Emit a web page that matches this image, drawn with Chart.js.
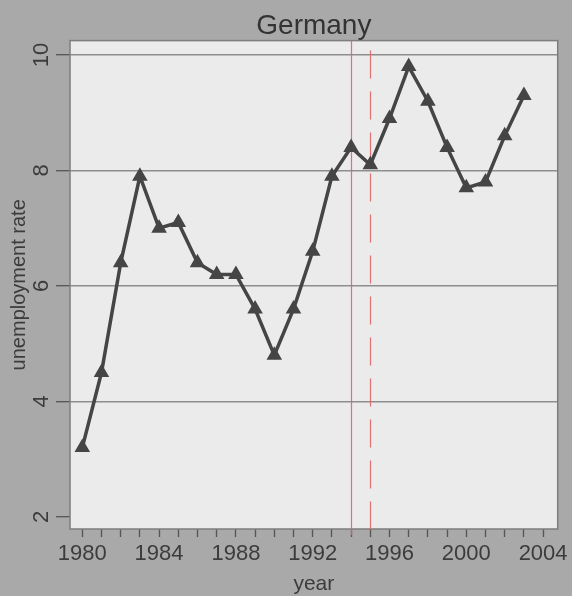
<!DOCTYPE html>
<html>
<head>
<meta charset="utf-8">
<script src="https://cdn.jsdelivr.net/npm/chart.js@4/dist/chart.umd.min.js"></script>
<style>
  html, body { margin: 0; padding: 0; background: #a9a9a9; }
  canvas { display: block; }
</style>
</head>
<body>
<canvas id="myChart" width="572" height="596"></canvas>
<script>
// ---- data ----
let years = [1980, 1981, 1982, 1983, 1984, 1985, 1986, 1987, 1988, 1989, 1990, 1991,
             1992, 1993, 1994, 1995, 1996, 1997, 1998, 1999, 2000, 2001, 2002, 2003];
let rates = [3.2, 4.5, 6.4, 7.9, 7.0, 7.1, 6.4, 6.2, 6.2, 5.6, 4.8, 5.6,
             6.6, 7.9, 8.4, 8.1, 8.9, 9.8, 9.2, 8.4, 7.7, 7.8, 8.6, 9.3];

let yTicks = [2, 4, 6, 8, 10];
let xTickLabels = [1980, 1984, 1988, 1992, 1996, 2000, 2004];
let eventYears = [1994, 1995];   // solid, dashed red marks

let fontFam = "'Liberation Sans', Arial, sans-serif";

// ---------------------------------

let points = years.map((yr, i) => ({ x: yr, y: rates[i] }));

let backPlugin = {
  id: "back",
  beforeDraw(chart) {
    let ctx = chart.ctx;
    let a = chart.chartArea;
    ctx.save();
    ctx.fillStyle = "#a9a9a9";
    ctx.fillRect(0, 0, chart.width, chart.height);
    ctx.fillStyle = "#ebebeb";
    ctx.fillRect(a.left, a.top, a.right - a.left, a.bottom - a.top);
    ctx.restore();
  },
  beforeDatasetsDraw(chart) {
    let ctx = chart.ctx;
    let a = chart.chartArea;
    let xs = chart.scales.x;
    ctx.save();
    // plot frame
    ctx.strokeStyle = "#7d7d7d";
    ctx.lineWidth = 1.5;
    ctx.strokeRect(a.left, a.top, a.right - a.left, a.bottom - a.top);
    // red year markers
    ctx.strokeStyle = "rgba(222,100,100,0.9)";
    ctx.lineWidth = 1.2;
    eventYears.forEach((yr, i) => {
      let px = Math.round(xs.getPixelForValue(yr)) + 0.5;
      ctx.setLineDash(i == 0 ? [] : [28, 13]);
      ctx.beginPath();
      ctx.moveTo(px, i == 0 ? a.top : a.top + 10);
      ctx.lineTo(px, a.bottom + 6);
      ctx.stroke();
    });
    ctx.restore();
  },
  afterDraw(chart) {
    // rotated y tick labels, like base R
    let ctx = chart.ctx;
    let ys = chart.scales.y;
    ctx.save();
    ctx.fillStyle = "#3c3c3c";
    ctx.font = "22px " + fontFam;
    ctx.textAlign = "center";
    ctx.textBaseline = "middle";
    ys.ticks.forEach((t) => {
      let py = ys.getPixelForValue(t.value);
      ctx.save();
      ctx.translate(42, py);
      ctx.rotate(-Math.PI / 2);
      ctx.fillText(String(t.value), 0, 0);
      ctx.restore();
    });
    ctx.restore();
  }
};

new Chart("myChart", {
  type: "line",
  data: {
    datasets: [
      {
        data: points,
        borderColor: "#454545",
        backgroundColor: "#454545",
        borderWidth: 3.5,
        pointStyle: "triangle",
        pointRadius: 5.5,
        pointHoverRadius: 5.5,
        tension: 0,
      },
    ],
  },
  options: {
    responsive: false,
    animation: false,
    layout: { padding: { left: 0, right: 13, top: 0, bottom: 0 } },
    plugins: {
      legend: { display: false },
      tooltip: { enabled: false },
      title: {
        display: true,
        text: "Germany",
        fullSize: false,
        color: "#333333",
        font: { family: fontFam, size: 28, weight: "normal" },
        padding: { top: 9, bottom: -2 },
      },
    },
    scales: {
      x: {
        type: "linear",
        min: 1979.36,
        max: 2004.76,
        afterBuildTicks: (s) => {
          let t = [];
          for (let yr = xTickLabels[0]; yr <= xTickLabels[xTickLabels.length - 1]; yr++) t.push({ value: yr });
          s.ticks = t;
        },
        afterFit: (s) => { s.height = 67; },
        border: { display: false },
        grid: { drawOnChartArea: false, tickLength: 8, tickColor: "#555555", tickWidth: 1.3 },
        ticks: {
          autoSkip: false,
          maxRotation: 0,
          padding: 4,
          color: "#3c3c3c",
          font: { family: fontFam, size: 22 },
          callback: (v) => (xTickLabels.includes(v) ? String(v) : ""),
        },
        title: {
          display: true,
          text: "year",
          color: "#3c3c3c",
          font: { family: fontFam, size: 21, lineHeight: 1 },
          padding: { top: 0, bottom: 1 },
        },
      },
      y: {
        min: 1.79,
        max: 10.25,
        afterBuildTicks: (s) => { s.ticks = yTicks.map((v) => ({ value: v })); },
        afterFit: (s) => { s.width = 70; },
        border: { display: false },
        grid: {
          color: (c) => (c.tick && c.tick.value == 2 ? "rgba(0,0,0,0)" : "#8e8e8e"),
          lineWidth: 1.4,
          tickLength: 14,
          tickColor: "#555555",
          tickWidth: 1.3,
        },
        ticks: { color: "rgba(0,0,0,0)", font: { family: fontFam, size: 22 } },
        title: {
          display: true,
          text: "unemployment rate",
          color: "#3c3c3c",
          font: { family: fontFam, size: 20, lineHeight: 1.2 },
          padding: { top: 7, bottom: 0 },
        },
      },
    },
  },
  plugins: [backPlugin],
});
</script>
</body>
</html>
